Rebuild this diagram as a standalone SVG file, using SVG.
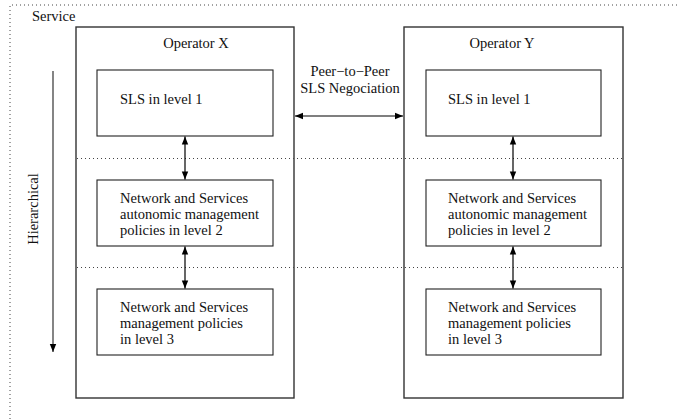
<svg xmlns="http://www.w3.org/2000/svg" width="678" height="419" viewBox="0 0 678 419">
  <defs>
    <marker id="ah" viewBox="0 0 10 10" refX="10" refY="5" markerWidth="10" markerHeight="8" markerUnits="userSpaceOnUse" orient="auto-start-reverse">
      <path d="M0,1 L10,5 L0,9 Z" fill="#000"/>
    </marker>
    <style>
      .t { font-family: "Liberation Serif", "Times New Roman", serif; font-size: 14.5px; fill: #111; }
      .op { fill: #fff; stroke: #333; stroke-width: 1.4; }
      .box { fill: #fff; stroke: #222; stroke-width: 1.1; }
      .dot { fill: none; stroke: #444; stroke-width: 1; stroke-dasharray: 1 3; }
      .con { fill: none; stroke: #000; stroke-width: 1.2; marker-start: url(#ah); marker-end: url(#ah); }
    </style>
  </defs>

  <rect width="678" height="419" fill="#fff"/>

  <!-- service frame (open to the right and bottom) -->
  <g id="service">
    <path class="dot" d="M10,419 L10,5 L678,5"/>
    <text class="t" x="32" y="21">Service</text>
  </g>

  <!-- hierarchy direction -->
  <g id="hierarchy">
    <line x1="53" y1="71" x2="53" y2="352" stroke="#666" stroke-width="1.6" marker-end="url(#ah)"/>
    <text class="t" transform="translate(38,209) rotate(-90)" text-anchor="middle">Hierarchical</text>
  </g>

  <!-- operator X -->
  <g id="operator-x">
    <rect class="op" x="76" y="27" width="218" height="371"/>
    <text class="t" x="196" y="48" text-anchor="middle">Operator X</text>
  </g>

  <!-- operator Y -->
  <g id="operator-y">
    <rect class="op" x="404" y="27" width="219" height="371"/>
    <text class="t" x="502" y="48" text-anchor="middle">Operator Y</text>
  </g>

  <!-- level separators -->
  <g id="levels">
    <line class="dot" x1="77" y1="158.5" x2="622" y2="158.5"/>
    <line class="dot" x1="77" y1="267.5" x2="622" y2="267.5"/>
  </g>

  <g id="x-level1">
    <rect class="box" x="97" y="70" width="176" height="66"/>
    <text class="t" x="120" y="104">SLS in level 1</text>
  </g>
  <g id="x-level2">
    <rect class="box" x="97" y="180" width="176" height="66"/>
    <text class="t" x="120" y="203">Network and Services</text>
    <text class="t" x="120" y="219">autonomic management</text>
    <text class="t" x="120" y="235">policies in level 2</text>
  </g>
  <g id="x-level3">
    <rect class="box" x="97" y="289" width="176" height="66"/>
    <text class="t" x="120" y="312">Network and Services</text>
    <text class="t" x="120" y="328">management policies</text>
    <text class="t" x="120" y="344">in level 3</text>
  </g>

  <g id="y-level1">
    <rect class="box" x="426" y="70" width="175" height="66"/>
    <text class="t" x="448" y="104">SLS in level 1</text>
  </g>
  <g id="y-level2">
    <rect class="box" x="426" y="180" width="175" height="66"/>
    <text class="t" x="448" y="203">Network and Services</text>
    <text class="t" x="448" y="219">autonomic management</text>
    <text class="t" x="448" y="235">policies in level 2</text>
  </g>
  <g id="y-level3">
    <rect class="box" x="426" y="289" width="175" height="66"/>
    <text class="t" x="448" y="312">Network and Services</text>
    <text class="t" x="448" y="328">management policies</text>
    <text class="t" x="448" y="344">in level 3</text>
  </g>

  <!-- connectors -->
  <g id="connectors">
    <line class="con" x1="185" y1="136.5" x2="185" y2="179.5"/>
    <line class="con" x1="185" y1="246.5" x2="185" y2="288.5"/>
    <line class="con" x1="513" y1="136.5" x2="513" y2="179.5"/>
    <line class="con" x1="513" y1="246.5" x2="513" y2="288.5"/>
    <line class="con" x1="295" y1="116" x2="403" y2="116"/>
    <text class="t" x="350" y="76" text-anchor="middle">Peer−to−Peer</text>
    <text class="t" x="350" y="93" text-anchor="middle">SLS Negociation</text>
  </g>
</svg>
